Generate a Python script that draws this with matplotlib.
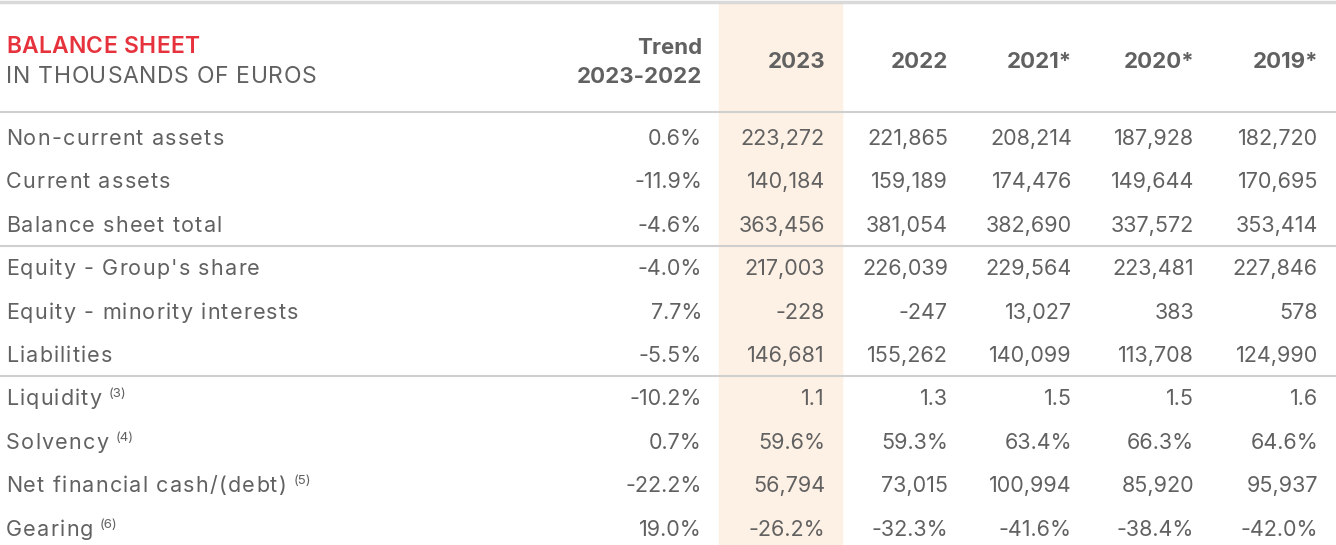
import matplotlib
matplotlib.use("Agg")
import matplotlib.pyplot as plt
from matplotlib.patches import Rectangle
from matplotlib.font_manager import FontProperties

plt.rcParams['font.family'] = ['Inter', 'DejaVu Sans']

# --- table data ---
title_red = "BALANCE SHEET"
title_sub = "IN THOUSANDS OF EUROS"
trend_head = ["Trend", "2023-2022"]
years = ["2023", "2022", "2021*", "2020*", "2019*"]

labels = ["Non-current assets", "Current assets", "Balance sheet total",
          "Equity - Group's share", "Equity - minority interests", "Liabilities",
          "Liquidity", "Solvency", "Net financial cash/(debt)", "Gearing"]
notes = ["", "", "", "", "", "", "(3)", "(4)", "(5)", "(6)"]
trend = ["0.6%", "-11.9%", "-4.6%", "-4.0%", "7.7%", "-5.5%",
         "-10.2%", "0.7%", "-22.2%", "19.0%"]
y2023 = ["223,272", "140,184", "363,456", "217,003", "-228", "146,681",
         "1.1", "59.6%", "56,794", "-26.2%"]
y2022 = ["221,865", "159,189", "381,054", "226,039", "-247", "155,262",
         "1.3", "59.3%", "73,015", "-32.3%"]
y2021 = ["208,214", "174,476", "382,690", "229,564", "13,027", "140,099",
         "1.5", "63.4%", "100,994", "-41.6%"]
y2020 = ["187,928", "149,644", "337,572", "223,481", "383", "113,708",
         "1.5", "66.3%", "85,920", "-38.4%"]
y2019 = ["182,720", "170,695", "353,414", "227,846", "578", "124,990",
         "1.6", "64.6%", "95,937", "-42.0%"]
group_breaks = [3, 6]  # separator lines before these rows

# --- layout (pixels) ---
W, H = 1336, 545
col_right = [702, 825, 948, 1072, 1194, 1318]
row_y0, row_dy = 137, 43.4
grey = "#616161"
red = "#e6323c"
line_c = "#cfcfcf"
fs = 15.5
fs_head = 16.5
fs_bold = 16

fig = plt.figure(figsize=(W / 100, H / 100), dpi=100)
ax = fig.add_axes([0, 0, 1, 1])
ax.set_xlim(0, W)
ax.set_ylim(H, 0)
ax.axis("off")
renderer = fig.canvas.get_renderer()


def tracked(x, y, s, size, track, weight="normal", color=grey):
    """left-aligned text with extra letter spacing; returns right edge (px)"""
    prop = FontProperties(family=['Inter', 'DejaVu Sans'], size=size, weight=weight)
    for i, ch in enumerate(s):
        w, _, _ = renderer.get_text_width_height_descent(s[:i], prop, ismath=False) if i else (0, 0, 0)
        ax.text(x + w + i * track, y, ch, fontproperties=prop, color=color,
                ha="left", va="baseline")
    w, _, _ = renderer.get_text_width_height_descent(s, prop, ismath=False)
    return x + w + (len(s) - 1) * track


# highlighted 2023 column
ax.add_patch(Rectangle((719, 2), 123, H, color="#fdf0e4", zorder=0))

# lines
ax.plot([0, W], [1.5, 1.5], color="#d9d9d9", lw=2.5, zorder=1)
ax.plot([0, W], [112, 112], color=line_c, lw=1.5, zorder=1)
for b in group_breaks:
    yy = row_y0 + (b - 0.5) * row_dy
    ax.plot([0, W], [yy, yy], color=line_c, lw=1.5, zorder=1)

# header (baseline positions)
tracked(6, 53, title_red, fs_head, 0.3, weight="semibold", color=red)
tracked(6, 83, title_sub, fs_head, 0.7)
ax.text(col_right[0], 54, trend_head[0], color=grey, fontsize=fs_bold,
        fontweight="bold", ha="right", va="baseline")
ax.text(col_right[0], 83, trend_head[1], color=grey, fontsize=fs_bold,
        fontweight="bold", ha="right", va="baseline")
for x, yr in zip(col_right[1:], years):
    ax.text(x, 68, yr, color=grey, fontsize=fs_bold, fontweight="bold",
            ha="right", va="baseline")

# body
cols = [trend, y2023, y2022, y2021, y2020, y2019]
for i, lab in enumerate(labels):
    y = row_y0 + i * row_dy + 8
    x_end = tracked(6, y, lab, fs, 1.2)
    if notes[i]:
        ax.text(x_end + 7, y - 8, notes[i], color=grey, fontsize=9.5,
                ha="left", va="baseline")
    for x, col in zip(col_right, cols):
        ax.text(x, y, col[i], color=grey, fontsize=fs, ha="right", va="baseline")

fig.savefig("out.png", dpi=100)
